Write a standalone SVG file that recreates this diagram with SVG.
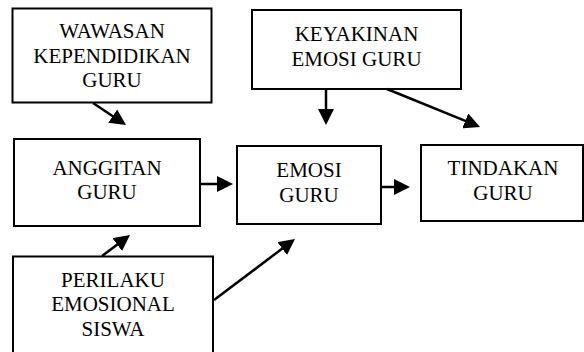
<svg xmlns="http://www.w3.org/2000/svg" width="584" height="352" viewBox="0 0 584 352">
<style>
.box{fill:#fff;stroke:#000;stroke-width:2}
.t{font-family:"Liberation Serif","DejaVu Serif","Times New Roman",serif;font-size:21px;fill:#000;text-anchor:middle}
.c{stroke:#000;stroke-width:2.5;fill:none;marker-end:url(#ah)}
</style>
<defs>
<marker id="ah" viewBox="0 0 16 16" markerWidth="16" markerHeight="16" refX="6" refY="8" orient="auto" markerUnits="userSpaceOnUse">
<path d="M0,0 L16,8 L0,16 z" fill="#000"/>
</marker>
</defs>
<rect width="584" height="352" fill="#fff"/>
<g id="wawasan">
<rect class="box" x="12.5" y="8.5" width="199" height="94"/>
<text class="t" font-family="Liberation Serif, serif" x="112" y="38">WAWASAN</text>
<text class="t" font-family="Liberation Serif, serif" x="112" y="62.5">KEPENDIDIKAN</text>
<text class="t" font-family="Liberation Serif, serif" x="112" y="87">GURU</text>
</g>
<g id="keyakinan">
<rect class="box" x="252" y="10" width="209" height="79"/>
<text class="t" font-family="Liberation Serif, serif" x="356.5" y="41">KEYAKINAN</text>
<text class="t" font-family="Liberation Serif, serif" x="356.5" y="66">EMOSI GURU</text>
</g>
<g id="anggitan">
<rect class="box" x="14" y="139" width="186" height="87"/>
<text class="t" font-family="Liberation Serif, serif" x="107" y="175">ANGGITAN</text>
<text class="t" font-family="Liberation Serif, serif" x="107" y="199">GURU</text>
</g>
<g id="emosi">
<rect class="box" x="237" y="146" width="144" height="78"/>
<text class="t" font-family="Liberation Serif, serif" x="309" y="177">EMOSI</text>
<text class="t" font-family="Liberation Serif, serif" x="309" y="202">GURU</text>
</g>
<g id="tindakan">
<rect class="box" x="421" y="145" width="162" height="76"/>
<text class="t" font-family="Liberation Serif, serif" x="503" y="175">TINDAKAN</text>
<text class="t" font-family="Liberation Serif, serif" x="503" y="200">GURU</text>
</g>
<g id="perilaku">
<rect class="box" x="13" y="256.5" width="200" height="110"/>
<text class="t" font-family="Liberation Serif, serif" x="113" y="287">PERILAKU</text>
<text class="t" font-family="Liberation Serif, serif" x="113" y="311">EMOSIONAL</text>
<text class="t" font-family="Liberation Serif, serif" x="113" y="336">SISWA</text>
</g>
<g id="connectors">
<line class="c" x1="93" y1="103" x2="117.7" y2="119.5"/>
<line class="c" x1="326" y1="89" x2="326" y2="115"/>
<line class="c" x1="387" y1="89" x2="470.8" y2="123.2"/>
<line class="c" x1="200" y1="184" x2="223" y2="184"/>
<line class="c" x1="381" y1="187" x2="400" y2="187"/>
<line class="c" x1="102" y1="256" x2="122" y2="241"/>
<line class="c" x1="214" y1="300" x2="287" y2="245"/>
</g>
</svg>
